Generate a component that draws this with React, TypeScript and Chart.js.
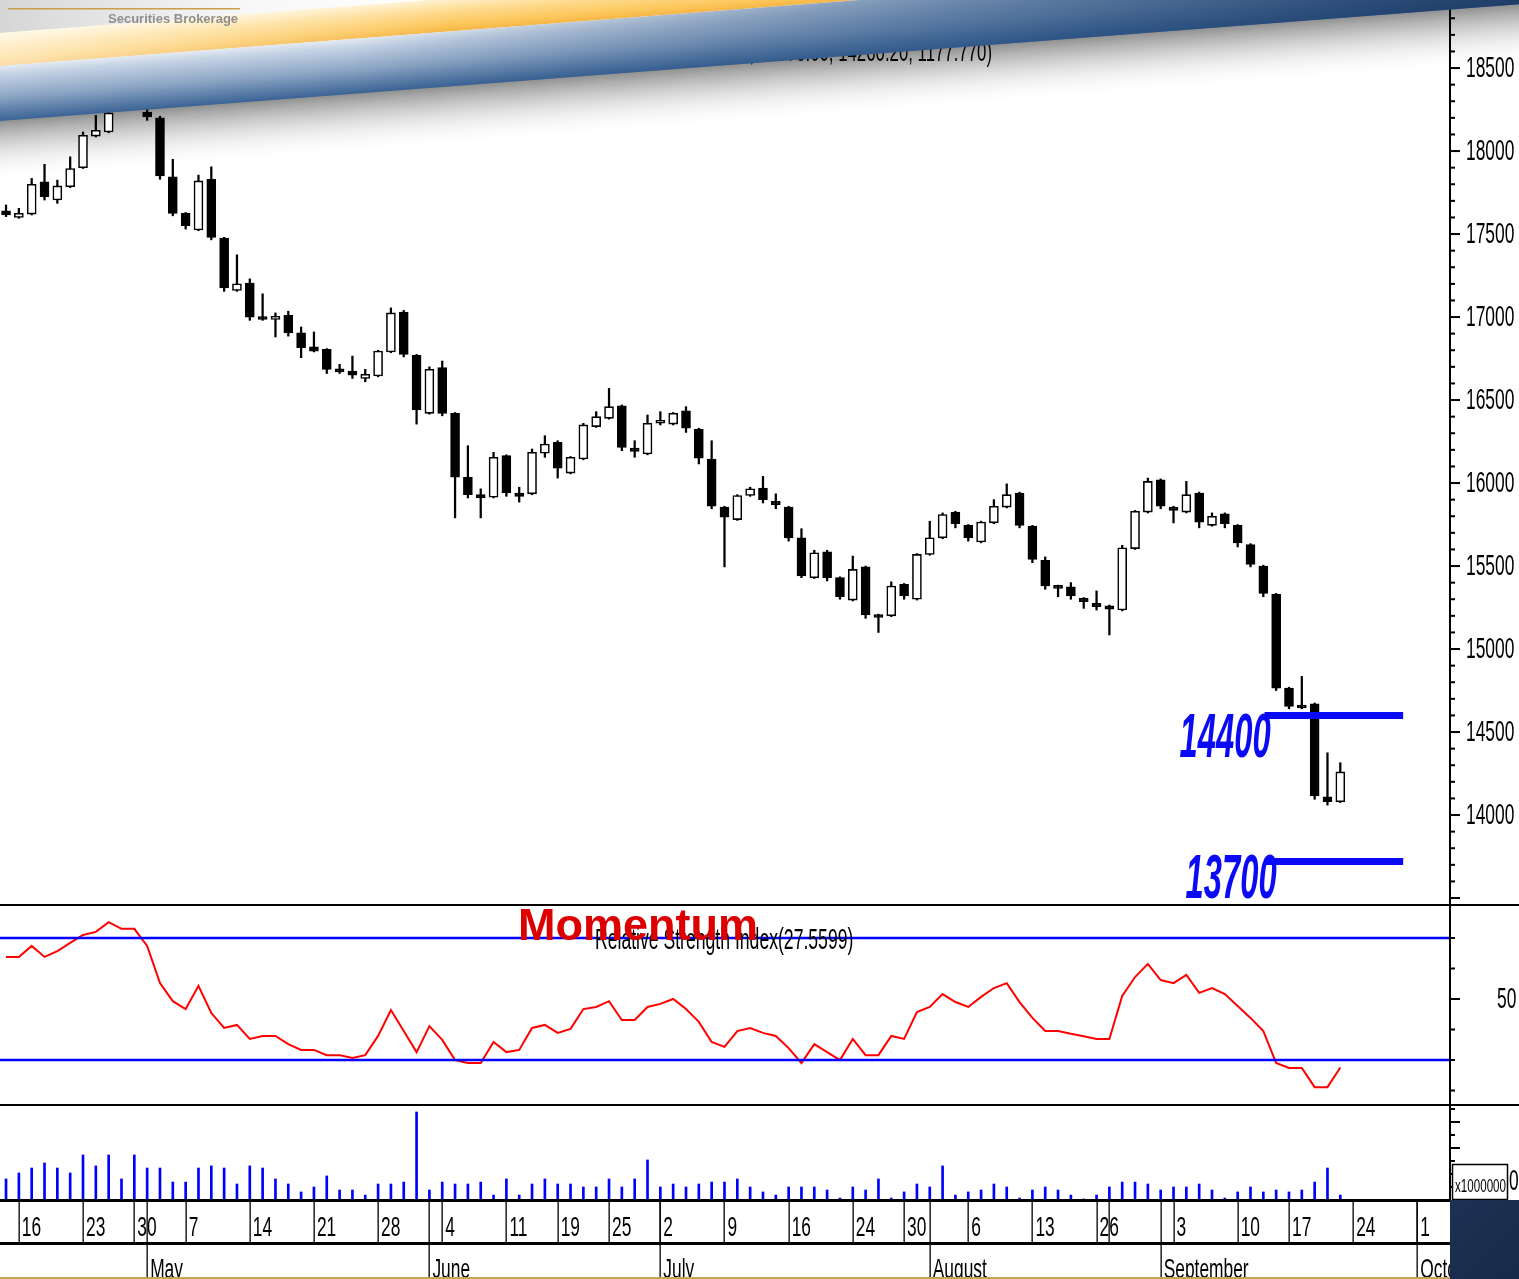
import React, { useEffect, useRef } from "react";
import { Chart, registerables } from "chart.js";
Chart.register(...registerables);

// ---------------- DATA ----------------
const opens = [17640, 17600, 17620, 17815, 17705, 17785, 17900, 18090, 18115, 18330, 18440, 18235, 18200, 17845, 17625, 17525, 17830, 17475, 17160, 17205, 17000, 16985, 17010, 16905, 16820, 16805, 16685, 16675, 16630, 16645, 16790, 17030, 16770, 16420, 16695, 16420, 16035, 15930, 15915, 16165, 15940, 15935, 16180, 16245, 16060, 16145, 16340, 16390, 16465, 16210, 16175, 16360, 16355, 16435, 16325, 16145, 15855, 15780, 15925, 15970, 15890, 15855, 15670, 15430, 15585, 15430, 15295, 15495, 15205, 15200, 15390, 15300, 15570, 15670, 15825, 15745, 15645, 15760, 15855, 15940, 15740, 15535, 15380, 15375, 15305, 15275, 15260, 15235, 15605, 15825, 16020, 15855, 15825, 15940, 15745, 15815, 15745, 15630, 15500, 15330, 14765, 14655, 14670, 14110, 14080];
const highs = [17675, 17655, 17835, 17920, 17825, 17965, 18115, 18215, 18280, 18480, 18520, 18290, 18210, 17950, 17630, 17855, 17905, 17480, 17375, 17230, 17140, 17025, 17035, 16940, 16910, 16810, 16715, 16765, 16685, 16800, 17055, 17040, 16775, 16700, 16735, 16425, 16225, 15965, 16185, 16170, 15975, 16205, 16285, 16255, 16160, 16360, 16430, 16570, 16470, 16255, 16410, 16430, 16425, 16460, 16330, 16255, 15860, 15930, 15975, 16040, 15935, 15860, 15725, 15595, 15595, 15435, 15560, 15500, 15210, 15405, 15395, 15575, 15770, 15820, 15830, 15750, 15770, 15900, 15995, 15945, 15745, 15555, 15385, 15400, 15310, 15350, 15265, 15625, 15835, 16030, 16025, 15860, 16010, 15945, 15820, 15820, 15750, 15635, 15505, 15335, 14770, 14835, 14675, 14375, 14315];
const lows = [17605, 17595, 17615, 17705, 17685, 17780, 17895, 18085, 18110, 18310, 18330, 18185, 17830, 17610, 17530, 17520, 17465, 17155, 17155, 16980, 16980, 16880, 16885, 16755, 16790, 16660, 16660, 16630, 16610, 16640, 16785, 16760, 16355, 16415, 16405, 15790, 15910, 15790, 15910, 15920, 15885, 15930, 16155, 16030, 16055, 16140, 16335, 16385, 16195, 16155, 16170, 16350, 16350, 16305, 16115, 15845, 15495, 15775, 15920, 15880, 15845, 15650, 15430, 15425, 15410, 15300, 15290, 15185, 15100, 15195, 15300, 15295, 15565, 15665, 15730, 15650, 15640, 15755, 15850, 15730, 15520, 15360, 15315, 15300, 15245, 15235, 15085, 15230, 15600, 15820, 15845, 15760, 15820, 15730, 15740, 15730, 15615, 15495, 15315, 14750, 14640, 14640, 14095, 14060, 14075];
const closes = [17615, 17625, 17800, 17725, 17790, 17895, 18095, 18125, 18230, 18450, 18350, 18205, 17850, 17625, 17550, 17820, 17480, 17175, 17200, 17000, 16985, 17005, 16905, 16815, 16795, 16685, 16670, 16650, 16655, 16795, 17025, 16775, 16440, 16685, 16420, 16035, 15930, 15910, 16155, 15940, 15920, 16185, 16235, 16090, 16155, 16350, 16400, 16460, 16215, 16190, 16360, 16370, 16420, 16330, 16150, 15860, 15795, 15925, 15965, 15900, 15870, 15670, 15440, 15580, 15430, 15315, 15480, 15205, 15190, 15380, 15320, 15570, 15670, 15810, 15755, 15670, 15765, 15860, 15930, 15745, 15540, 15380, 15365, 15320, 15285, 15255, 15240, 15610, 15830, 16010, 15860, 15835, 15930, 15765, 15800, 15755, 15640, 15510, 15335, 14765, 14655, 14645, 14115, 14080, 14260];

const rsiValues = [63.8, 63.8, 67.4, 63.8, 65.7, 68.4, 71.0, 72.0, 75.2, 73.0, 73.0, 67.4, 55.2, 49.3, 46.7, 54.3, 45.4, 40.5, 41.5, 36.9, 37.9, 37.9, 35.2, 33.3, 33.3, 31.6, 31.6, 30.7, 31.6, 37.9, 46.4, 39.5, 32.6, 41.1, 36.6, 30.0, 29.0, 29.0, 35.9, 32.6, 33.3, 40.5, 41.5, 38.9, 40.2, 46.7, 47.4, 49.3, 43.1, 43.1, 47.4, 48.4, 50.0, 46.7, 42.5, 35.9, 34.3, 39.5, 40.5, 38.9, 37.9, 33.9, 29.0, 35.2, 32.6, 30.0, 36.9, 31.6, 31.6, 37.9, 36.9, 45.7, 47.4, 51.6, 49.0, 47.4, 50.7, 53.6, 55.2, 49.0, 43.8, 39.5, 39.5, 38.6, 37.8, 36.9, 36.9, 51.0, 57.2, 61.5, 56.2, 55.2, 57.9, 52.0, 53.6, 51.6, 47.7, 43.8, 39.5, 29.0, 27.4, 27.4, 21.1, 21.1, 27.56];
const rsiBands = [70, 30];

// volume in millions (x1000000)
const volumes = [1.62, 2.08, 2.46, 2.85, 2.46, 2.08, 3.46, 2.62, 3.46, 1.62, 3.46, 2.46, 2.46, 1.38, 1.38, 2.46, 2.62, 2.46, 1.23, 2.62, 2.46, 1.62, 1.23, 0.62, 1.0, 1.85, 0.77, 0.77, 0.38, 1.23, 1.23, 1.38, 6.77, 0.77, 1.38, 1.23, 1.23, 1.38, 0.38, 1.62, 0.38, 1.23, 1.62, 1.23, 1.23, 1.0, 1.0, 1.62, 1.0, 1.62, 3.08, 1.0, 1.23, 1.0, 1.23, 1.38, 1.38, 1.62, 1.0, 0.62, 0.38, 1.0, 1.0, 1.0, 0.77, 0.15, 1.0, 0.77, 1.62, 0.15, 0.62, 1.23, 1.0, 2.62, 0.38, 0.62, 0.77, 1.23, 1.0, 0.15, 0.77, 1.0, 0.77, 0.38, 0.08, 0.38, 1.0, 1.38, 1.38, 1.23, 0.77, 1.0, 1.0, 1.23, 0.77, 0.15, 0.62, 1.0, 0.62, 0.77, 0.62, 0.77, 1.38, 2.46, 0.38];

const priceMajorTicks = [14000, 14500, 15000, 15500, 16000, 16500, 17000, 17500, 18000, 18500];
const supportLevels = [14600, 13720];
const supportLabels = ["14400", "13700"];
const supportFrom = 98.1;
const supportTo = 108.9;

const dateTickIndex = [1, 6, 10, 14, 19, 24, 29, 34, 39, 43, 47, 51, 56, 61, 66, 70, 75, 80, 85, 86, 91, 96, 100, 105, 110];
const dateTickLabels = ["16", "23", "30", "7", "14", "21", "28", "4", "11", "19", "25", "2", "9", "16", "24", "30", "6", "13", "26", "", "3", "10", "17", "24", "1"];
const monthIndex = [11, 33, 51, 72, 90, 110];
const monthLabels = ["May", "June", "July", "August", "September", "October"];

const rsiTitle = "Relative Strength Index(27.5599)";
const panelTitle = "Momentum";
const headerText = "(14080.00, 14315.00, 14075.00, 14260.20, 1177.770)";
const brandText = "Securities Brokerage";
const volUnitText = "x1000000";

// ---------------- LAYOUT ----------------
const W = 1519;
const H = 1279;
const AXIS_X = 1450;
const X_MIN = -0.47;
const X_MAX = 112.55;
const FONT = '"Liberation Sans", Arial, Helvetica, sans-serif';
const SLOPE = 0.0768;

function condText(
  ctx: CanvasRenderingContext2D,
  text: string,
  x: number,
  y: number,
  size: number,
  sx: number,
  opts: any = {}
) {
  const { weight = "normal", style = "normal", color = "#000", align = "left", baseline = "alphabetic" } = opts;
  ctx.save();
  ctx.font = `${style} ${weight} ${size}px ${FONT}`;
  ctx.fillStyle = color;
  ctx.textAlign = align;
  ctx.textBaseline = baseline;
  ctx.translate(x, y);
  ctx.scale(sx, 1);
  ctx.fillText(text, 0, 0);
  ctx.restore();
}

const baseOptions = (padBottom: number) => ({
  responsive: false,
  animation: false as const,
  devicePixelRatio: 1,
  events: [] as any[],
  layout: { padding: { left: 0, right: W - AXIS_X, top: 0, bottom: padBottom } },
  plugins: { legend: { display: false }, tooltip: { enabled: false }, title: { display: false } },
});

const pricePlugin = {
  id: "pricePlugin",
  beforeDatasetsDraw(chart: any) {
    const ctx: CanvasRenderingContext2D = chart.ctx;
    ctx.save();
    ctx.transform(1, -SLOPE, 0, 1, 0, 0);
    const g = ctx.createLinearGradient(0, 120, 0, 182);
    g.addColorStop(0, "rgba(130,130,130,0.9)");
    g.addColorStop(0.35, "rgba(175,175,175,0.6)");
    g.addColorStop(1, "rgba(255,255,255,0)");
    ctx.fillStyle = g;
    ctx.fillRect(0, 120, W + 10, 62);
    ctx.restore();
    condText(ctx, headerText, 992, 61, 28, 0.6, { align: "right" });
  },
  afterDatasetsDraw(chart: any) {
    const ctx: CanvasRenderingContext2D = chart.ctx;
    const ys = chart.scales.y;
    const xs = chart.scales.x;
    const dx = [-85, -79];
    const dy = [42, 36];
    supportLevels.forEach((lvl, i) => {
      const px = xs.getPixelForValue(supportFrom);
      const py = ys.getPixelForValue(lvl);
      condText(ctx, supportLabels[i], px + dx[i], py + dy[i], 63, 0.52, {
        weight: "bold",
        style: "italic",
        color: "#0a0af5",
      });
    });
    ctx.save();
    ctx.fillStyle = "#000";
    ctx.fillRect(AXIS_X - 1, 0, 2, 906);
    for (let v = 13500; v <= 18900; v += 100) {
      const y = ys.getPixelForValue(v);
      const len = v % 500 === 0 ? 10 : 5;
      ctx.fillRect(AXIS_X, y - 1, len, 2);
    }
    ctx.restore();
    priceMajorTicks.forEach((v) => {
      const y = ys.getPixelForValue(v);
      condText(ctx, String(v), 1466, y + 1, 29, 0.6, { baseline: "middle" });
    });
    ctx.fillStyle = "#000";
    ctx.fillRect(0, 904, W, 2);

    // banner
    ctx.save();
    ctx.transform(1, -SLOPE, 0, 1, 0, 0);
    let gr = ctx.createLinearGradient(0, 0, 430, 0);
    gr.addColorStop(0, "#d6d6d6");
    gr.addColorStop(0.55, "#f7f7f7");
    gr.addColorStop(1, "#ffffff");
    ctx.fillStyle = gr;
    ctx.fillRect(0, -200, W + 10, 234);
    gr = ctx.createLinearGradient(0, 33, 0, 66);
    gr.addColorStop(0, "#fff2d2");
    gr.addColorStop(0.35, "#fedc92");
    gr.addColorStop(0.8, "#fcc65a");
    gr.addColorStop(1, "#f5b545");
    ctx.fillStyle = gr;
    ctx.fillRect(0, 33, W + 10, 33);
    gr = ctx.createLinearGradient(0, 0, 450, 0);
    gr.addColorStop(0, "rgba(255,255,255,0.55)");
    gr.addColorStop(1, "rgba(255,255,255,0)");
    ctx.fillStyle = gr;
    ctx.fillRect(0, 33, 450, 33);
    gr = ctx.createLinearGradient(0, 66, 0, 121);
    gr.addColorStop(0, "#e3eaf3");
    gr.addColorStop(0.15, "#c6d3e4");
    gr.addColorStop(0.55, "#8ea7c6");
    gr.addColorStop(1, "#3b6394");
    ctx.fillStyle = gr;
    ctx.fillRect(0, 66, W + 10, 55);
    gr = ctx.createLinearGradient(350, 0, W, 0);
    gr.addColorStop(0, "rgba(40,80,130,0)");
    gr.addColorStop(0.5, "rgba(40,80,130,0.55)");
    gr.addColorStop(1, "rgba(28,58,100,0.92)");
    ctx.fillStyle = gr;
    ctx.fillRect(0, 66, W + 10, 55);
    ctx.restore();
    ctx.save();
    ctx.fillStyle = "#c9a04a";
    ctx.fillRect(8, 8, 232, 1.5);
    ctx.restore();
    condText(ctx, brandText, 108, 23, 13, 1, { weight: "bold", color: "#8f8f8f" });
  },
};

const rsiPlugin = {
  id: "rsiPlugin",
  afterDatasetsDraw(chart: any) {
    const ctx: CanvasRenderingContext2D = chart.ctx;
    const ys = chart.scales.y;
    condText(ctx, rsiTitle, 595, 43, 29, 0.607);
    condText(ctx, panelTitle, 518, 34, 45, 1, { weight: "bold", color: "#dd0000" });
    ctx.save();
    ctx.fillStyle = "#000";
    ctx.fillRect(AXIS_X - 1, 0, 2, 200);
    [20, 30, 40, 50, 60, 70].forEach((v) => {
      const y = ys.getPixelForValue(v);
      ctx.fillRect(AXIS_X, y - 1, v === 50 ? 10 : 5, 2);
    });
    ctx.fillRect(0, 198, W, 2);
    ctx.restore();
    condText(ctx, "50", 1497, ys.getPixelForValue(50) + 1, 29, 0.6, { baseline: "middle" });
  },
};

const volPlugin = {
  id: "volPlugin",
  afterDatasetsDraw(chart: any) {
    const ctx: CanvasRenderingContext2D = chart.ctx;
    const ys = chart.scales.y;
    const xs = chart.scales.x;
    ctx.save();
    ctx.fillStyle = "#000";
    ctx.fillRect(AXIS_X - 1, 0, 2, 94);
    for (let v = 1; v <= 7; v++) {
      const y = ys.getPixelForValue(v);
      ctx.fillRect(AXIS_X, y - 1, v % 2 === 0 ? 10 : 5, 2);
    }
    ctx.fillStyle = "#fff";
    ctx.fillRect(1452, 58, 56, 36);
    ctx.strokeStyle = "#000";
    ctx.lineWidth = 1.5;
    ctx.strokeRect(1452.5, 58.5, 55, 35);
    ctx.restore();
    condText(ctx, volUnitText, 1455, 86, 18, 0.645);
    condText(ctx, "0", 1509, ys.getPixelForValue(0) - 10, 29, 0.6);

    ctx.save();
    ctx.fillStyle = "#000";
    ctx.fillRect(0, 93, AXIS_X, 3);
    ctx.fillRect(0, 136, AXIS_X, 3);
    dateTickIndex.forEach((i) => {
      const x = xs.getPixelForValue(i);
      ctx.fillRect(Math.round(x) - 0.5, 95, 1.3, 42);
    });
    monthIndex.forEach((i) => {
      const x = xs.getPixelForValue(i);
      ctx.fillRect(Math.round(x) - 0.5, 95, 1.3, 78);
    });
    ctx.restore();
    dateTickIndex.forEach((i, k) => {
      const x = xs.getPixelForValue(i);
      if (dateTickLabels[k]) condText(ctx, dateTickLabels[k], x + 3, 130, 28, 0.62);
    });
    monthIndex.forEach((i, k) => {
      const x = xs.getPixelForValue(i);
      condText(ctx, monthLabels[k], x + 3, 172, 28, 0.62);
    });
    ctx.save();
    ctx.fillStyle = "#c8a15a";
    ctx.fillRect(0, 171, W, 2);
    const ng = ctx.createLinearGradient(AXIS_X, 94, W, 173);
    ng.addColorStop(0, "#1e3154");
    ng.addColorStop(1, "#182a4a");
    ctx.fillStyle = ng;
    ctx.fillRect(AXIS_X, 94, W - AXIS_X, 79);
    ctx.restore();
  },
};

export default function App() {
  const priceRef = useRef<HTMLCanvasElement>(null);
  const rsiRef = useRef<HTMLCanvasElement>(null);
  const volRef = useRef<HTMLCanvasElement>(null);

  useEffect(() => {
    document.body.style.margin = "0";
    document.body.style.overflow = "hidden";
    const bodies = opens.map((o, i) => ({ x: i, y: [o, closes[i]] }));
    const bodyFill = opens.map((o, i) => (closes[i] >= o ? "#ffffff" : "#000000"));
    const wicks = highs.map((h, i) => ({ x: i, y: [lows[i], h] }));
    const xScale = { type: "linear", display: false, min: X_MIN, max: X_MAX, offset: false };

    const price = new Chart(priceRef.current as HTMLCanvasElement, {
      type: "bar",
      data: {
        datasets: [
          {
            type: "bar",
            data: bodies as any,
            backgroundColor: bodyFill,
            borderColor: "#000",
            borderWidth: 1.6,
            borderSkipped: false,
            barThickness: 9,
            minBarLength: 3,
            grouped: false,
            order: 1,
          } as any,
          {
            type: "bar",
            data: wicks as any,
            backgroundColor: "#000",
            borderWidth: 0,
            barThickness: 1.6,
            grouped: false,
            order: 2,
          } as any,
          ...supportLevels.map(
            (lvl) =>
              ({
                type: "line",
                data: [
                  { x: supportFrom, y: lvl },
                  { x: supportTo, y: lvl },
                ],
                borderColor: "#0a0af5",
                borderWidth: 7,
                borderCapStyle: "butt",
                pointRadius: 0,
                order: 0,
              } as any)
          ),
        ],
      },
      options: {
        ...baseOptions(1),
        scales: {
          x: xScale as any,
          y: { type: "linear", display: false, min: 13458, max: 18910 },
        },
      } as any,
      plugins: [pricePlugin],
    });

    const rsi = new Chart(rsiRef.current as HTMLCanvasElement, {
      type: "line",
      data: {
        datasets: [
          ...rsiBands.map(
            (b) =>
              ({
                data: [
                  { x: X_MIN, y: b },
                  { x: X_MAX, y: b },
                ],
                borderColor: "#0000ff",
                borderWidth: 2.5,
                pointRadius: 0,
              } as any)
          ),
          {
            data: rsiValues.map((v, i) => ({ x: i, y: v })),
            borderColor: "#ff0000",
            borderWidth: 2,
            pointRadius: 0,
            tension: 0,
          } as any,
        ],
      },
      options: {
        ...baseOptions(1),
        scales: {
          x: xScale as any,
          y: { type: "linear", display: false, min: 15.25, max: 80.49 },
        },
      } as any,
      plugins: [rsiPlugin],
    });

    const vol = new Chart(volRef.current as HTMLCanvasElement, {
      type: "bar",
      data: {
        datasets: [
          {
            data: volumes.map((v, i) => ({ x: i, y: v })) as any,
            backgroundColor: "#0000ff",
            borderWidth: 0,
            barThickness: 2,
          } as any,
        ],
      },
      options: {
        ...baseOptions(79),
        scales: {
          x: xScale as any,
          y: { type: "linear", display: false, min: 0, max: 7.23 },
        },
      } as any,
      plugins: [volPlugin],
    });

    return () => {
      price.destroy();
      rsi.destroy();
      vol.destroy();
    };
  }, []);

  return (
    <div style={{ position: "absolute", left: 0, top: 0, width: W, height: H, background: "#fff", overflow: "hidden" }}>
      <canvas ref={priceRef} width={W} height={906} style={{ position: "absolute", left: 0, top: 0 }} />
      <canvas ref={rsiRef} width={W} height={200} style={{ position: "absolute", left: 0, top: 906 }} />
      <canvas ref={volRef} width={W} height={173} style={{ position: "absolute", left: 0, top: 1106 }} />
    </div>
  );
}
